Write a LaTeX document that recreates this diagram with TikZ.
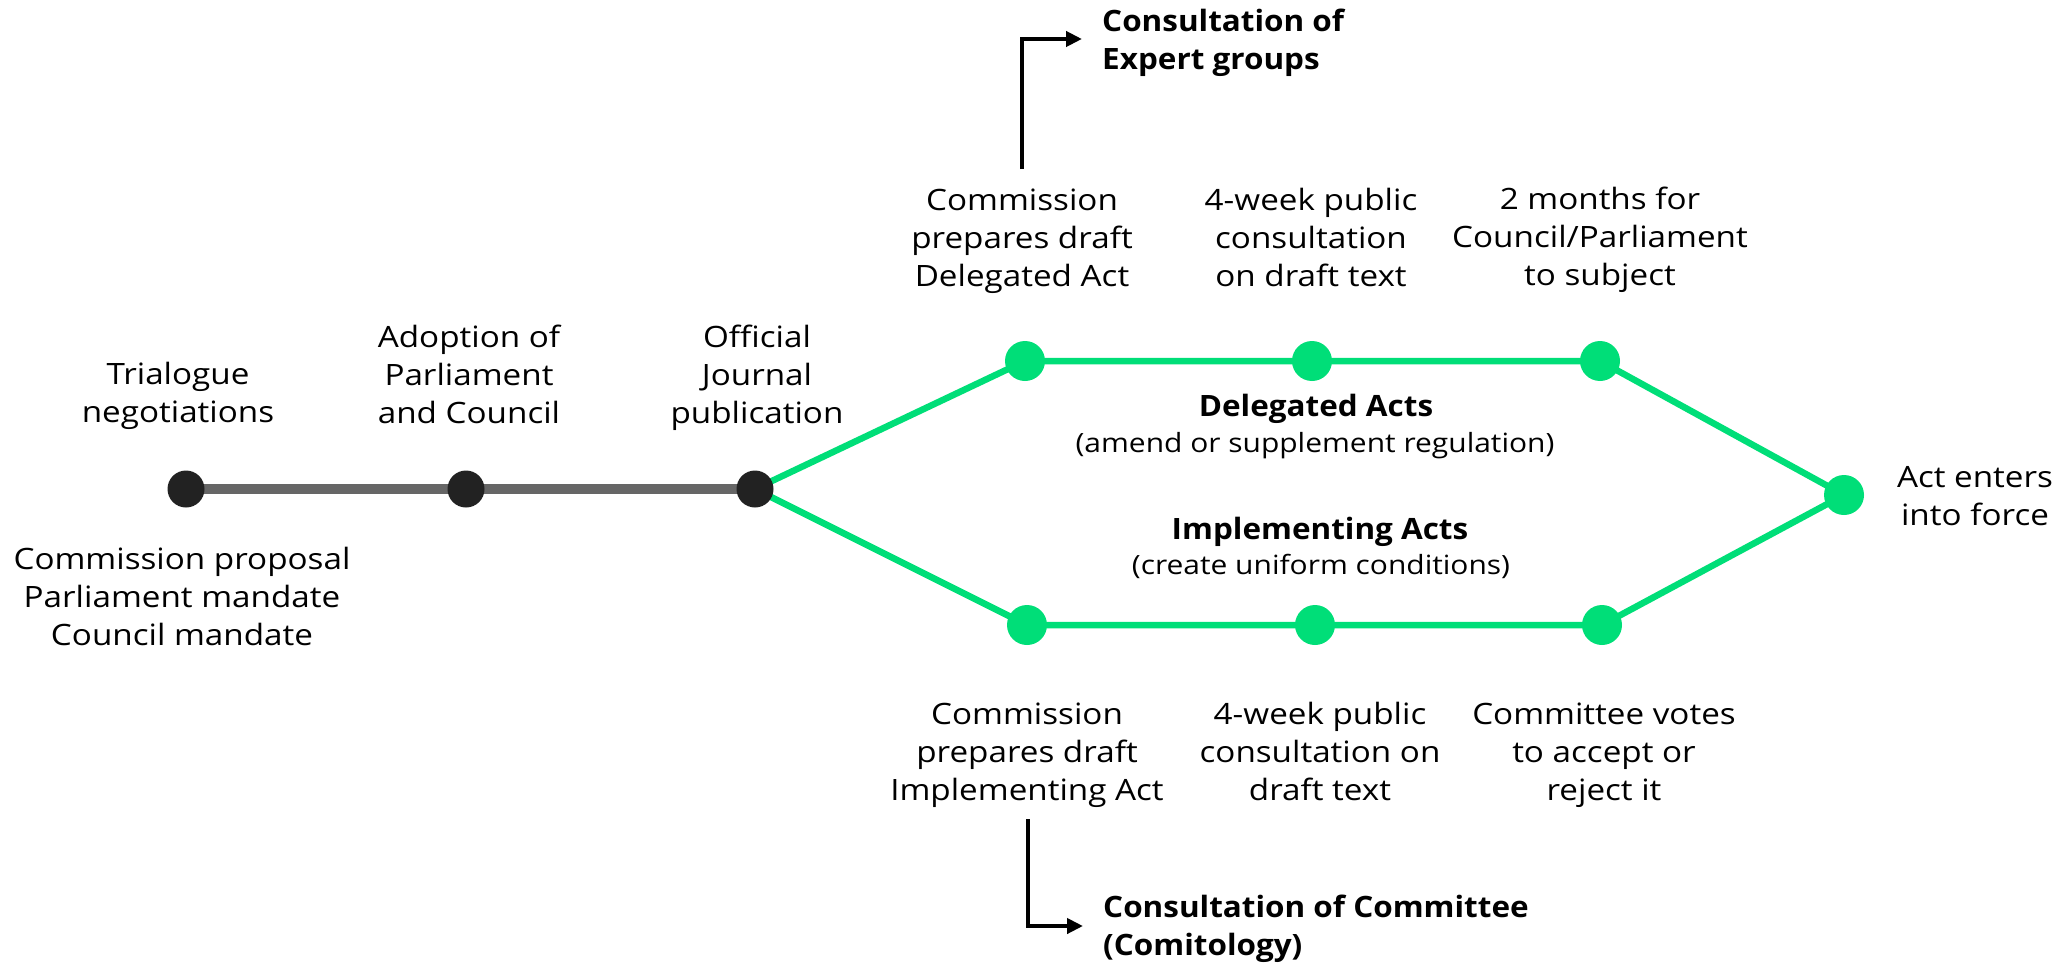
\documentclass[tikz,border=0pt]{standalone}
\usepackage{fontspec}
\setmainfont{Open Sans}[FakeStretch=1.13,BoldFeatures={FakeStretch=1.07}]
\usetikzlibrary{backgrounds,arrows.meta}
\definecolor{actgreen}{RGB}{0,222,120}
\definecolor{linegray}{RGB}{102,102,102}
\definecolor{dotdark}{RGB}{34,34,34}
\tikzset{
  lbl/.style={align=center,anchor=base,inner sep=0pt,font=\fontsize{29.4}{38}\selectfont},
  sublbl/.style={align=center,anchor=base,inner sep=0pt,font=\fontsize{26.5}{32}\selectfont},
  headlbl/.style={align=center,anchor=base,inner sep=0pt,font=\fontsize{29.4}{38}\selectfont\bfseries},
  sidelbl/.style={align=left,anchor=base west,inner sep=0pt,font=\fontsize{29.4}{38}\selectfont\bfseries},
  graydot/.style={circle,fill=dotdark,minimum size=37pt,inner sep=0pt},
  greendot/.style={circle,fill=actgreen,minimum size=40pt,inner sep=0pt},
  grayline/.style={draw=linegray,line width=10.5pt},
  greenline/.style={draw=actgreen,line width=6.5pt},
  pointer/.style={draw=black,line width=4pt,-{Triangle[length=16pt,width=15pt]}},
}
\begin{document}
\begin{tikzpicture}[x=1pt,y=-1pt]
\useasboundingbox (0,0) rectangle (2068,963);
% dots
\node[graydot] (d1) at (186,489) {};
\node[graydot] (d2) at (466,489) {};
\node[graydot] (d3) at (755,489) {};
\node[greendot] (t1) at (1025,361) {};
\node[greendot] (t2) at (1312,361) {};
\node[greendot] (t3) at (1600,361) {};
\node[greendot] (b1) at (1027,625) {};
\node[greendot] (b2) at (1315,625) {};
\node[greendot] (b3) at (1602,625) {};
\node[greendot] (e) at (1844,495) {};
\begin{scope}[on background layer]
  \draw[grayline] (d1.center) -- (d2.center) -- (d3.center);
  \draw[greenline,line join=round] (d3.center) -- (t1.center) -- (t2.center) -- (t3.center) -- (e.center);
  \draw[greenline,line join=round] (d3.center) -- (b1.center) -- (b2.center) -- (b3.center) -- (e.center);
\end{scope}
% labels left (anchor = baseline of last line)
\node[lbl] (trilog) at (178,422) {Trialogue\\negotiations};
\node[lbl] (adopt) at (469,423) {Adoption of\\Parliament\\and Council};
\node[lbl] (oj) at (757,423) {Official\\Journal\\publication};
\node[lbl] (mand) at (182,645) {Commission proposal\\Parliament mandate\\Council mandate};
% top labels
\node[lbl] (cdel) at (1022,286) {Commission\\prepares draft\\Delegated Act};
\node[lbl] (pubdel) at (1311,286) {4-week public\\consultation\\on draft text};
\node[lbl] (twomon) at (1600,285) {2 months for\\Council/Parliament\\to subject};
% middle
\node[headlbl] (delh) at (1316,416) {Delegated Acts};
\node[sublbl] (dels) at (1315,452) {(amend or supplement regulation)};
\node[headlbl] (imph) at (1320,539) {Implementing Acts};
\node[sublbl] (imps) at (1321,574) {(create uniform conditions)};
% end
\node[lbl] (force) at (1975,525) {Act enters\\into force};
% bottom labels
\node[lbl] (cimp) at (1027,800) {Commission\\prepares draft\\Implementing Act};
\node[lbl] (pubimp) at (1320,800) {4-week public\\consultation on\\draft text};
\node[lbl] (vote) at (1604,800) {Committee votes\\to accept or\\reject it};
% side notes
\node[sidelbl] (expert) at (1102,70) {Consultation of\\Expert groups};
\node[sidelbl] (comit) at (1103,955) {Consultation of Committee\\(Comitology)};
% pointers
\coordinate (p1s) at (1022,169);
\coordinate (p1e) at (1082,39);
\coordinate (p2s) at (1028,819);
\coordinate (p2e) at (1083,926);
\draw[pointer] (p1s) |- (p1e);
\draw[pointer] (p2s) |- (p2e);
\end{tikzpicture}
\end{document}
